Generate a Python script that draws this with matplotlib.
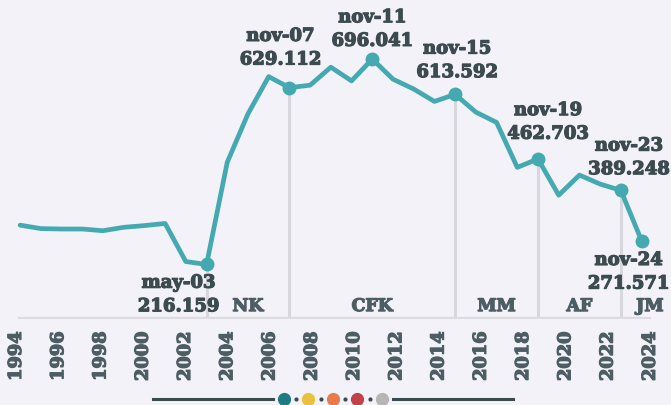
import matplotlib.pyplot as plt
import matplotlib.patheffects as pe
from matplotlib.lines import Line2D

years = list(range(1994, 2025))
values = [308, 300, 299, 299, 295, 303, 307, 312, 223, 216.159,
          455, 568, 655, 629.112, 635, 677, 645, 696.041, 649, 626,
          597, 613.592, 572, 548, 443, 462.703, 378, 425, 404, 389.248,
          271.571]

# highlighted points: year, label, value text
hl_years = [2003, 2007, 2011, 2015, 2019, 2023, 2024]
hl_dates = ['may-03', 'nov-07', 'nov-11', 'nov-15', 'nov-19', 'nov-23', 'nov-24']
hl_texts = ['216.159', '629.112', '696.041', '613.592', '462.703', '389.248', '271.571']
# label offsets in pixels (dx, dy)
hl_offsets = [(-28, -30), (-9, 40), (0, 30), (2, 34), (10, 37), (8, 33), (-13, -31)]

# term boundaries and presidents
term_starts = [2003, 2007, 2015, 2019, 2023]
presidents = ['NK', 'CFK', 'MM', 'AF', 'JM']
president_x = [2005, 2011, 2017, 2021, 2024.4]

tick_years = list(range(1994, 2025, 2))

bg = '#f2f2f8'
line_c = '#45a9b1'
text_c = '#3c4b50'
grey_c = '#4d5d64'

plt.rcParams['font.family'] = ['DejaVu Serif']
plt.rcParams['font.weight'] = 'bold'


def heavy(c):
    return [pe.withStroke(linewidth=0.9, foreground=c)]


fig = plt.figure(figsize=(6.71, 4.06), dpi=100, facecolor=bg)
ax = fig.add_axes([0, 86 / 406, 1, 320 / 406])
ax.set_facecolor(bg)
ax.set_xlim(1993.03, 2025.42)
ax.set_ylim(88.8, 836.3)

vals = dict(zip(years, values))

# term separator lines
for yr in term_starts:
    ax.plot([yr, yr], [88.8, vals[yr]], color='#d8d8dc', lw=2.2, zorder=1,
            solid_capstyle='butt')

# axis baseline
ax.plot([1993.95, 2024.4], [90, 90], color='#dcdce0', lw=1.6, zorder=1)

ax.plot(years, values, color=line_c, lw=3.4, solid_joinstyle='round',
        solid_capstyle='round', zorder=3)
ax.plot(hl_years, [vals[y] for y in hl_years], 'o', color=line_c, ms=9, zorder=4)

for yr, d, t, (dx, dy) in zip(hl_years, hl_dates, hl_texts, hl_offsets):
    ax.annotate(d + '\n' + t, xy=(yr, vals[yr]), xytext=(dx, dy),
                textcoords='offset pixels', ha='center', va='center',
                multialignment='center', fontsize=13, fontweight='bold',
                color=text_c, linespacing=1.4, zorder=5,
                path_effects=heavy(text_c))

for name, x in zip(presidents, president_x):
    ax.text(x, 98, name, ha='center', va='bottom', fontsize=12.5,
            fontweight='bold', color=grey_c, path_effects=heavy(grey_c))

tick_pos = [1993.8 + (y - 1994) * 1.02 for y in tick_years]
ax.set_xticks(tick_pos)
ax.set_xticklabels([str(y) for y in tick_years], rotation=90, fontsize=12.8,
                   fontweight='bold', color=grey_c)
for lab in ax.get_xticklabels():
    lab.set_path_effects(heavy(grey_c))
ax.tick_params(axis='x', length=0, pad=9)
ax.set_yticks([])
for s in ax.spines.values():
    s.set_visible(False)

# bottom legend strip
ly = 6 / 406
fig.add_artist(Line2D([153 / 671, 273 / 671], [ly, ly], color=text_c, lw=2.2))
fig.add_artist(Line2D([393 / 671, 513 / 671], [ly, ly], color=text_c, lw=2.2))
dot_cols = ['#1e7b80', '#e8c23c', '#e97b4b', '#c0434b', '#b5b5b5']
dot_x = [284, 308, 333, 357, 382]
for c, x in zip(dot_cols, dot_x):
    fig.add_artist(Line2D([x / 671], [ly], marker='o', color=c, ms=8.5, lw=0))
for x in [296, 320.5, 345, 369.5]:
    fig.add_artist(Line2D([x / 671], [ly], marker='o', color=text_c, ms=2, lw=0))

fig.savefig('out.png', dpi=100, facecolor=bg)
